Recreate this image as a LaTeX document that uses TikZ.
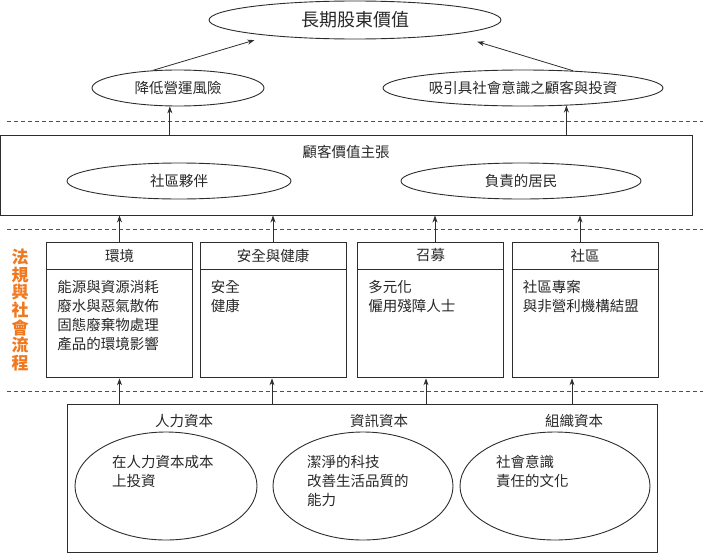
\documentclass[tikz,border=0pt]{standalone}
\usepackage{fontspec}
\setmainfont{Noto Sans CJK TC}
\usetikzlibrary{shapes.geometric, arrows.meta, positioning, calc}
\definecolor{cLine}{RGB}{45,45,45}
\definecolor{cText}{RGB}{40,40,40}
\definecolor{cOrange}{RGB}{240,120,30}
\definecolor{cDash}{RGB}{80,80,80}
\tikzset{
  basebox/.style={rectangle, draw=cLine, line width=0.9pt, text=cText,
                  font=\fontsize{14.5}{19}\selectfont, inner sep=0pt},
  headbox/.style={basebox, minimum width=146pt, minimum height=27pt},
  bodybox/.style={basebox, minimum width=146pt, minimum height=108pt},
  ovalnode/.style={ellipse, draw=cLine, line width=0.9pt, text=cText,
                   font=\fontsize{14.5}{19}\selectfont, inner sep=0pt},
  listtext/.style={anchor=north west, align=left, text=cText,
                   font=\fontsize{14.5}{19}\selectfont, inner sep=3pt},
  titletext/.style={text=cText, font=\fontsize{14.5}{19}\selectfont,
                    inner sep=0pt},
  sidetext/.style={align=center, text=cOrange, inner sep=0pt,
                   font=\bfseries\fontsize{17}{17.7}\selectfont},
  arrow/.style={-{Stealth[length=7pt,width=5pt]}, line width=0.8pt,
                color=cLine},
  sepline/.style={dash pattern=on 4pt off 3pt, line width=1pt, color=cDash}
}

\begin{document}
\begin{tikzpicture}[x=1pt, y=-1pt]
  \useasboundingbox (0,0) rectangle (703,554);

  % Separators
  \draw[sepline] (7,121) -- (703,121);
  \draw[sepline] (7,229) -- (703,229);
  \draw[sepline] (7,391) -- (703,391);

  % Financial goals
  \node[ovalnode, minimum width=292pt, minimum height=38pt,
        font=\fontsize{18}{22}\selectfont] (value) at (355,20) {長期股東價值};
  \node[ovalnode, minimum width=172pt, minimum height=36pt]
      (risk) at (178,88) {降低營運風險};
  \node[ovalnode, minimum width=280pt, minimum height=36pt]
      (cause) at (523,88) {吸引具社會意識之顧客與投資};
  \draw[arrow] (risk.145) -- ([yshift=-6pt]value.188);
  \draw[arrow] (cause.19) -- ([yshift=-11pt]value.355);

  % Customer value proposition
  \node[basebox, minimum width=692pt, minimum height=80pt] (cvp) at (346,175) {};
  \node[titletext] (cvptitle) at ([yshift=-17pt]cvp.north) {顧客價值主張};
  \node[ovalnode, minimum width=224pt, minimum height=36pt]
      (partner) at (179,181) {社區夥伴};
  \node[ovalnode, minimum width=240pt, minimum height=36pt]
      (citizen) at (521,181) {負責的居民};
  \draw[arrow] (cvp.north -| risk.246) -- (risk.246);
  \draw[arrow] (cvp.north -| cause.338) -- (cause.338);

  % Regulatory and social processes
  \node[sidetext] (side) at (20,310) {法\\規\\與\\社\\會\\流\\程};

  \node[headbox] (envhead) at (119.5,255.5) {環境};
  \node[bodybox, below=0pt of envhead] (envbody) {};
  \node[listtext] (envlist) at ([xshift=8pt,yshift=-8pt]envbody.north west)
      {能源與資源消耗\\廢水與惡氣散佈\\固態廢棄物處理\\產品的環境影響};

  \node[headbox] (safehead) at (273,255.5) {安全與健康};
  \node[bodybox, below=0pt of safehead] (safebody) {};
  \node[listtext] (safelist) at ([xshift=8pt,yshift=-8pt]safebody.north west)
      {安全\\健康};

  \node[headbox] (rechead) at (430.5,255.5) {召募};
  \node[bodybox, below=0pt of rechead] (recbody) {};
  \node[listtext] (reclist) at ([xshift=8pt,yshift=-8pt]recbody.north west)
      {多元化\\僱用殘障人士};

  \node[headbox] (comhead) at (585,255.5) {社區};
  \node[bodybox, below=0pt of comhead] (combody) {};
  \node[listtext] (comlist) at ([xshift=8pt,yshift=-8pt]combody.north west)
      {社區專案\\與非營利機構結盟};

  \draw[arrow] (envhead.north) -- (envhead.north |- cvp.south);
  \draw[arrow] (safehead.north) -- (safehead.north |- cvp.south);
  \draw[arrow] ([xshift=4.5pt]rechead.north) -- ([xshift=4.5pt]rechead.north |- cvp.south);
  \draw[arrow] ([xshift=-5pt]comhead.north) -- ([xshift=-5pt]comhead.north |- cvp.south);

  % Intangible assets
  \node[basebox, minimum width=590pt, minimum height=148pt] (capital) at (362,478) {};
  \node[titletext] (humantitle) at (184,421) {人力資本};
  \node[titletext] (infotitle) at (379,421) {資訊資本};
  \node[titletext] (orgtitle) at (574,421) {組織資本};
  \node[ovalnode, minimum width=182pt, minimum height=108pt] (human) at (166,486) {};
  \node[ovalnode, minimum width=180pt, minimum height=108pt] (info) at (363,486) {};
  \node[ovalnode, minimum width=190pt, minimum height=108pt] (org) at (555,486) {};
  \node[listtext] (humanlist) at (109,452) {在人力資本成本\\上投資};
  \node[listtext] (infolist) at (304,452) {潔淨的科技\\改善生活品質的\\能力};
  \node[listtext] (orglist) at (493,452) {社會意識\\責任的文化};

  \draw[arrow] (envbody.south |- capital.north) -- (envbody.south);
  \draw[arrow] ([xshift=-1pt]safebody.south |- capital.north) -- ([xshift=-1pt]safebody.south);
  \draw[arrow] ([xshift=-4.5pt]recbody.south |- capital.north) -- ([xshift=-4.5pt]recbody.south);
  \draw[arrow] ([xshift=-13pt]combody.south |- capital.north) -- ([xshift=-13pt]combody.south);
\end{tikzpicture}
\end{document}
